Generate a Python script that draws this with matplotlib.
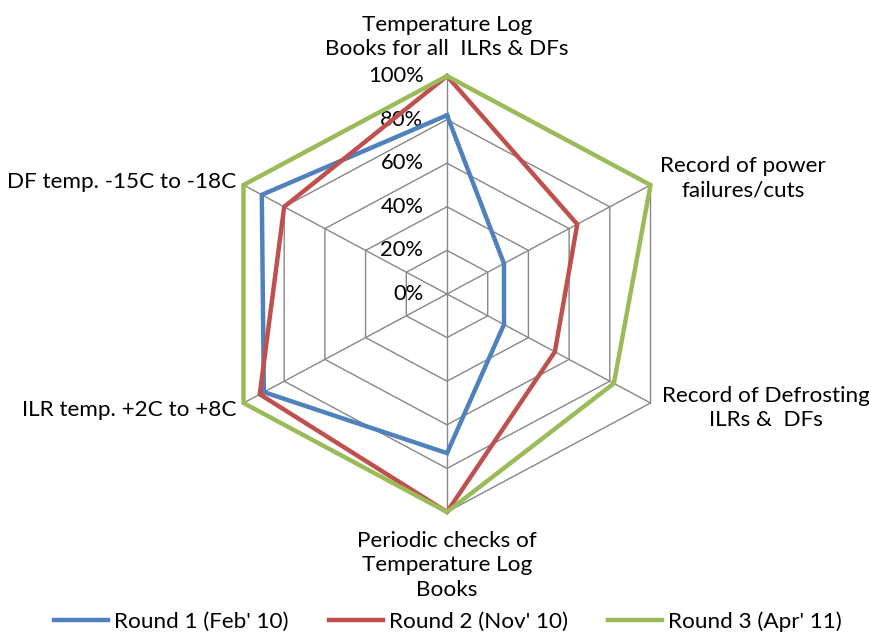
import numpy as np
import matplotlib
matplotlib.use("Agg")
import matplotlib.pyplot as plt

plt.rcParams['font.family'] = ['Lato', 'DejaVu Sans']

categories = ["Temperature Log\nBooks for all  ILRs & DFs",
              "Record of power\nfailures/cuts",
              "Record of Defrosting\nILRs &  DFs",
              "Periodic checks of\nTemperature Log\nBooks",
              "ILR temp. +2C to +8C",
              "DF temp. -15C to -18C"]
series_names = ["Round 1 (Feb' 10)", "Round 2 (Nov' 10)", "Round 3 (Apr' 11)"]
round1 = [0.82, 0.28, 0.28, 0.73, 0.90, 0.91]
round2 = [1.00, 0.64, 0.53, 1.00, 0.92, 0.80]
round3 = [1.00, 1.00, 0.82, 1.00, 1.00, 1.00]
ticks = [0.0, 0.2, 0.4, 0.6, 0.8, 1.0]
tick_labels = ["0%", "20%", "40%", "60%", "80%", "100%"]
colors = ["#4F81BD", "#C0504D", "#9BBB59"]

n = len(categories)
theta = np.arange(n) * 2 * np.pi / n
fs = 16.2


def to_xy(r):
    r = np.asarray(r, dtype=float)
    return r * np.sin(theta), r * np.cos(theta)


fig = plt.figure(figsize=(8.7, 6.34), dpi=100)
ax = fig.add_axes([0, 0, 1, 1])
# pixel center (447, 294), radius 235 px horizontally, 218 px vertically
ax.set_xlim(-447 / 235, (870 - 447) / 235)
ax.set_ylim(-(634 - 294) / 218, 294 / 218)
ax.axis('off')

grid_c = "#878787"
for t in ticks[1:]:
    gx, gy = to_xy([t] * n)
    ax.plot(np.append(gx, gx[0]), np.append(gy, gy[0]), color=grid_c, lw=1, zorder=1)
sx, sy = to_xy([1.0] * n)
for i in range(n):
    ax.plot([0, sx[i]], [0, sy[i]], color=grid_c, lw=1, zorder=1)

for t, lab in zip(ticks, tick_labels):
    ax.text(-0.1, t, lab, ha='right', va='center', fontsize=15.8)

for vals, name, c in zip([round1, round2, round3], series_names, colors):
    x, y = to_xy(vals)
    ax.plot(np.append(x, x[0]), np.append(y, y[0]), color=c, lw=3.2,
            solid_joinstyle='miter', label=name, zorder=3)

lx, ly = to_xy([1.0] * n)
ax.text(lx[0], ly[0] + 0.08, categories[0], ha='center', va='bottom', fontsize=fs, linespacing=1.25)
ax.text(lx[1] + 0.04, ly[1] + 0.03, categories[1], ha='left', va='center', fontsize=fs, linespacing=1.25, multialignment='center')
ax.text(lx[2] + 0.05, ly[2] - 0.025, categories[2], ha='left', va='center', fontsize=fs, linespacing=1.25, multialignment='center')
ax.text(lx[3], ly[3] - 0.085, categories[3], ha='center', va='top', fontsize=fs, linespacing=1.3)
ax.text(lx[4] - 0.03, ly[4] - 0.03, categories[4], ha='right', va='center', fontsize=fs)
ax.text(lx[5] - 0.03, ly[5] + 0.015, categories[5], ha='right', va='center', fontsize=fs)

fig.legend(loc='center', bbox_to_anchor=(0.515, 0.019), ncol=3, frameon=False,
           fontsize=fs, handlelength=2.4, handletextpad=0.25, columnspacing=1.8)

fig.savefig("out.png", dpi=100)
